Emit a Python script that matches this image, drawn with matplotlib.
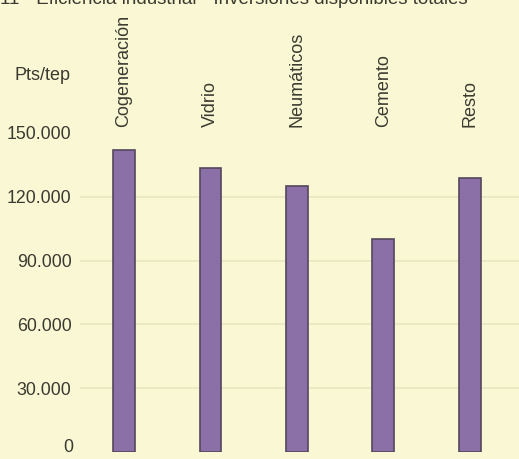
import matplotlib.pyplot as plt
import matplotlib.transforms as mtransforms

categorias = ['Cogeneración', 'Vidrio', 'Neumáticos', 'Cemento', 'Resto']
valores = [142000, 133500, 125000, 100000, 129000]   # Pts/tep
ticks_y = [0, 30000, 60000, 90000, 120000, 150000]
ticks_txt = ['0', '30.000', '60.000', '90.000', '120.000', '150.000']

fondo = '#faf8d4'
plt.rcParams['font.family'] = ['Liberation Sans', 'DejaVu Sans']

fig = plt.figure(figsize=(5.19, 4.59), dpi=100, facecolor=fondo)
ax = fig.add_axes([0.154, 0.0153, 0.846, 0.695], facecolor=fondo)

x = list(range(len(categorias)))
ax.bar(x, valores, width=0.25, color='#8a70a6', edgecolor='#54475c', linewidth=1.2, zorder=3)

ax.set_xlim(-0.51, 4.57)
ax.set_ylim(0, 150000)
ax.set_yticks(ticks_y)
# el "0" va aparte, un poco mas arriba para que no se salga por abajo
ax.set_yticklabels([''] + ticks_txt[1:], fontsize=12.8, color='#3a3a30')
trans_y = mtransforms.blended_transform_factory(ax.transAxes, ax.transData)
ax.annotate(ticks_txt[0], (0, ticks_y[0]), xycoords=trans_y, xytext=(-4.5, 3),
            textcoords='offset points', ha='right', va='center',
            fontsize=12.8, color='#3a3a30', annotation_clip=False)
ax.tick_params(axis='y', length=0, pad=6)
ax.set_xticks([])
for s in ax.spines.values():
    s.set_visible(False)

# lineas de guia muy tenues
for v in ticks_y[1:-1]:
    ax.axhline(v, color='#e9e7bf', lw=1.2, zorder=1)

# nombres de las categorias, verticales sobre cada barra
trans = mtransforms.blended_transform_factory(ax.transData, ax.transAxes)
for xi, nombre in zip(x, categorias):
    ax.text(xi, 1.019, nombre, transform=trans, rotation=90, ha='center', va='bottom',
            fontsize=13, color='#3a3a30')

fig.text(15 / 519, 1 - 75 / 459, 'Pts/tep', fontsize=13, color='#3a3a30', va='center')
fig.text(0.0, 1 - 4 / 459, '11 - Eficiencia industrial - Inversiones disponibles totales',
         fontsize=13.5, color='#3a3a30', va='baseline', ha='left')

fig.savefig('out.png', dpi=100, facecolor=fondo)
